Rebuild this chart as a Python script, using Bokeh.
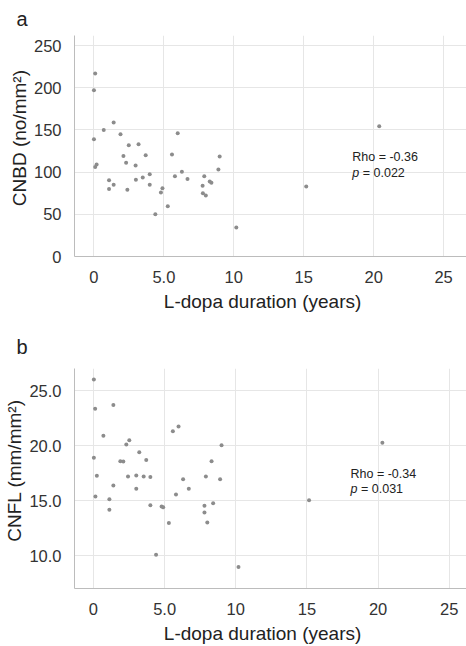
from bokeh.plotting import figure
from bokeh.layouts import column
from bokeh.models import Range1d, FixedTicker
from bokeh.core.properties import value
from bokeh.embed import file_html
from bokeh.resources import INLINE

# Panel a: CNBD vs L-dopa duration
x_a = [0.09, 0.0, 1.41, 0.70, 1.9, 0.0, 2.49, 3.19, 2.11, 3.7, 0.19, 0.09, 2.3, 2.98,
       1.08, 1.41, 1.08, 2.39, 3.0, 3.49, 3.99, 3.99, 4.9, 4.79, 4.39, 5.99, 5.58,
       8.99, 8.9, 6.29, 5.79, 6.69, 7.89, 8.28, 8.4, 7.77, 7.79, 8.0, 5.28, 10.18,
       15.18, 20.4]
y_a = [217, 197, 159, 150, 145, 139, 132, 133, 119, 120, 109, 106, 111, 108,
       90.5, 85, 80, 79, 91, 93.7, 97.6, 85, 81, 76, 50, 146, 121,
       118.6, 103, 100.4, 95, 92, 95, 89, 87.4, 84, 75, 72.4, 59.7, 34.5,
       83, 154.5]

# Panel b: CNFL vs L-dopa duration
x_b = [0.03, 0.12, 1.40, 0.70, 2.52, 2.31, 5.58, 5.98, 9.0, 20.3,
       0.03, 1.89, 2.1, 3.22, 3.71, 8.3,
       0.24, 2.43, 3.01, 3.53, 4.0, 6.3, 7.9, 8.9,
       1.4, 3.01, 6.7,
       5.8, 0.14, 1.12, 1.12, 4.0, 4.79, 4.9, 5.3, 7.8, 7.8, 8.41, 8.0, 4.4, 10.19, 15.15]
y_b = [26.0, 23.36, 23.7, 20.9, 20.5, 20.1, 21.3, 21.75, 20.05, 20.27,
       18.9, 18.6, 18.57, 19.4, 18.7, 18.6,
       17.27, 17.2, 17.3, 17.2, 17.15, 16.96, 17.2, 16.96,
       16.4, 16.1, 16.1,
       15.57, 15.4, 15.15, 14.2, 14.6, 14.48, 14.42, 13.0, 14.55, 13.94, 14.78, 13.03, 10.1, 9.0, 15.05]

x_ticks = [0, 5, 10, 15, 20, 25]
x_tick_labels = ["0", "5.0", "10", "15", "20", "25"]
ya_ticks = [0, 50, 100, 150, 200, 250]
ya_tick_labels = ["0", "50", "100", "150", "200", "250"]
yb_ticks = [10, 15, 20, 25]
yb_tick_labels = ["10.0", "15.0", "20.0", "25.0"]

x_title = "L-dopa duration (years)"
ya_title = "CNBD (no/mm²)"
yb_title = "CNFL (mm/mm²)"

stats_a = ["Rho = -0.36", "= 0.022"]
stats_b = ["Rho = -0.34", "= 0.031"]

FONT = "Liberation Sans"
PAD = "\u00a0" * 3  # nudges the axis titles off-centre as in the original


def make_panel(letter, xs, ys, xr, yr, yticks, ylabels, ytitle, stats, stat_pos,
               height, border_left, border_top, border_bottom, title_offset, title_standoff):
    p = figure(width=466, height=height, output_backend="svg", toolbar_location=None,
               x_range=Range1d(*xr), y_range=Range1d(*yr),
               min_border_left=border_left, min_border_right=0,
               min_border_top=border_top, min_border_bottom=border_bottom)
    p.outline_line_color = None

    p.title.text = letter
    p.title.text_font = FONT
    p.title.text_font_size = "20px"
    p.title.text_font_style = "normal"
    p.title.text_color = "#222222"
    p.title.align = "left"
    p.title.offset = title_offset
    p.title.standoff = title_standoff

    for ax in (p.xaxis[0], p.yaxis[0]):
        ax.axis_line_color = "#bcbcbc"
        ax.axis_line_width = 1
        ax.major_tick_line_color = None
        ax.minor_tick_line_color = None
        ax.major_label_text_font = FONT
        ax.major_label_text_font_size = "16.5px"
        ax.major_label_text_color = "#333333"
        ax.axis_label_text_font = FONT
        ax.axis_label_text_font_size = "19px"
        ax.axis_label_text_font_style = "normal"
        ax.axis_label_text_color = "#222222"
    p.xaxis.major_label_standoff = 8
    p.xaxis.axis_label_standoff = 5
    p.yaxis.major_label_standoff = 7
    p.yaxis.axis_label_standoff = 1

    p.xaxis.ticker = FixedTicker(ticks=x_ticks)
    p.xaxis.major_label_overrides = dict(zip(x_ticks, x_tick_labels))
    p.yaxis.ticker = FixedTicker(ticks=yticks)
    p.yaxis.major_label_overrides = dict(zip(yticks, ylabels))
    p.xaxis.axis_label = x_title + PAD
    p.yaxis.axis_label = PAD + ytitle

    p.xgrid.grid_line_color = "#e6e6e6"
    p.ygrid.grid_line_color = "#e6e6e6"

    p.scatter(xs, ys, size=4, fill_color="#8c8c8c", line_color=None)

    sx, sy1, sy2 = stat_pos
    p.text(x=[sx], y=[sy1], text=[stats[0]], text_font=value(FONT), text_font_size="12.5px",
           text_color="#222222", text_baseline="middle", text_align="left")
    p.text(x=[sx], y=[sy2], text=["p"], text_font=value(FONT), text_font_size="12.5px",
           text_font_style="italic", text_color="#222222", text_baseline="middle", text_align="left")
    p.text(x=[sx], y=[sy2], x_offset=10.5, text=[stats[1]], text_font=value(FONT),
           text_font_size="12.5px", text_color="#222222", text_baseline="middle",
           text_align="left")
    return p


pa = make_panel("a", x_a, y_a, (-1.39, 26.64), (0, 262), ya_ticks, ya_tick_labels,
                ya_title, stats_a, (18.47, 117.4, 99.0), 318, 69, 35, 62, -58, 11)
pb = make_panel("b", x_b, y_b, (-1.33, 26.21), (7.05, 27.0), yb_ticks, yb_tick_labels,
                yb_title, stats_b, (18.06, 17.45, 16.03), 328, 74, 50, 58, -58, 22)

layout = column(pa, pb, spacing=0)
open("out.html", "w").write(file_html(layout, INLINE))
